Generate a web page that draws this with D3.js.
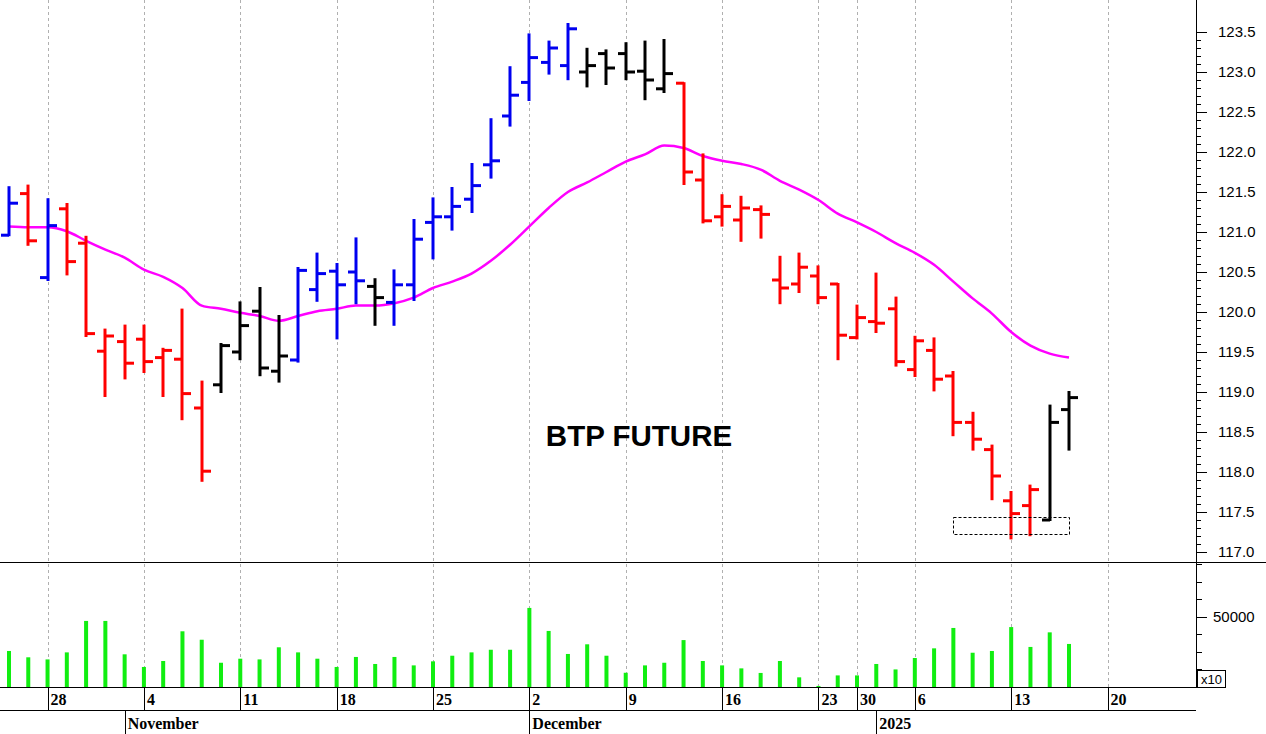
<!DOCTYPE html>
<html><head><meta charset="utf-8">
<script src="https://cdn.jsdelivr.net/npm/d3@7"></script>
<style>body{margin:0;background:#fff}svg{display:block}</style>
</head><body><svg id="c" width="1266" height="734"></svg>
<script>
const openP=[120.96,121.48,120.43,121.29,120.86,119.51,119.63,119.66,119.43,119.41,118.80,119.09,119.50,120.01,119.26,119.40,120.28,120.51,120.50,120.32,120.12,120.34,121.12,121.19,121.41,121.84,122.45,122.87,123.12,123.08,123.00,123.23,123.23,123.01,122.79,122.86,121.65,121.19,121.15,121.28,120.40,120.35,120.45,120.35,119.68,119.88,120.04,119.28,119.52,119.20,118.62,118.28,117.64,117.58,117.40,118.78];
const highP=[121.56,121.58,121.41,121.35,120.94,119.78,119.83,119.83,119.54,120.03,119.13,119.60,120.12,120.30,119.95,120.55,120.73,120.60,120.92,120.41,120.52,121.15,121.42,121.55,121.85,122.41,123.06,123.47,123.38,123.60,123.29,123.27,123.36,123.38,123.40,122.86,121.97,121.46,121.44,121.32,120.69,120.73,120.57,120.35,120.08,120.48,120.18,119.69,119.67,119.25,118.74,118.33,117.75,117.83,118.83,119.00];
const lowP=[120.96,120.84,120.40,120.47,119.70,118.95,119.17,119.25,118.95,118.66,117.89,119.00,119.41,119.21,119.13,119.38,120.14,119.67,120.11,119.84,119.84,120.15,120.67,121.03,121.25,121.68,122.33,122.65,122.98,122.91,122.82,122.85,122.91,122.66,122.75,121.60,121.12,121.08,120.89,120.93,120.11,120.25,120.11,119.41,119.67,119.75,119.33,119.20,119.02,118.46,118.28,117.66,117.17,117.21,117.40,118.28];
const closeP=[121.36,120.89,121.08,120.63,119.73,119.70,119.36,119.38,119.52,118.98,118.01,119.58,119.83,119.30,119.45,120.52,120.48,120.34,120.39,120.18,120.34,120.91,121.19,121.32,121.58,121.89,122.71,123.18,123.30,123.54,123.08,123.05,123.00,122.90,122.98,121.75,121.14,121.32,121.30,121.22,120.30,120.56,120.18,119.71,119.93,119.86,119.38,119.64,119.16,118.62,118.41,117.95,117.48,117.78,118.62,118.93];
const barColor="BRBRRRRRRRRKKKKBBBBKBBBBBBBBBBKKKKKRRRRRRRRRRRRRRRRRRRKK".split("");
const maP=[121.07,121.06,121.06,121.01,120.89,120.78,120.68,120.53,120.44,120.30,120.08,120.04,119.99,119.95,119.89,119.95,120.01,120.04,120.08,120.08,120.11,120.18,120.30,120.38,120.48,120.64,120.84,121.07,121.30,121.50,121.62,121.75,121.88,121.97,122.08,122.05,121.95,121.89,121.85,121.78,121.64,121.53,121.40,121.23,121.12,121.00,120.86,120.74,120.59,120.38,120.17,119.98,119.75,119.58,119.48,119.43];
const volume=[30500,26900,25700,29700,47600,47600,28600,21400,24800,41700,36900,23800,26100,25700,32600,29700,26100,21400,27100,23100,27100,22300,24600,27800,29700,31200,31200,55000,41900,28800,34300,27800,18100,22300,23800,36700,24800,22300,20600,18000,24800,15500,10600,16600,16600,23100,20000,26500,32000,43600,29500,30500,44100,32800,41100,34500];
const dayTickIdx=[2,7,12,17,22,27,32,37,42,44,47,52,57];
const dayTickLbl=["28","4","11","18","25","2","9","16","23","30","6","13","20"];
const monthIdx=[6,27,45];
const monthLbl=["November","December","2025"];
const priceTicks=[117.0,117.5,118.0,118.5,119.0,119.5,120.0,120.5,121.0,121.5,122.0,122.5,123.0,123.5];
const volTicks=[20000,30000,40000,50000,60000,70000,80000];
const volLabels=[50000];
const title="BTP FUTURE";

const svg=d3.select("#c");
const AX=1196;
const x=d3.scaleLinear().domain([0,55]).range([9,1069]);
const y=d3.scaleLinear().domain([117,123.5]).range([552,32]);
const yv=d3.scaleLinear().domain([10000,80000]).range([687,564]);
const col={B:"#0000f0",R:"#ff0000",K:"#000000"};

svg.append("g").selectAll("line").data(dayTickIdx).join("line")
 .attr("x1",d=>Math.round(x(d))+0.5).attr("x2",d=>Math.round(x(d))+0.5).attr("y1",0).attr("y2",687)
 .attr("stroke","#b0b0b0").attr("stroke-dasharray","3,3");
svg.append("line").attr("x1",0).attr("x2",1266).attr("y1",562.5).attr("y2",562.5).attr("stroke","#000");
svg.append("line").attr("x1",0).attr("x2",AX).attr("y1",687.5).attr("y2",687.5).attr("stroke","#000");
svg.append("line").attr("x1",0).attr("x2",AX).attr("y1",710.5).attr("y2",710.5).attr("stroke","#000");
svg.append("line").attr("x1",AX+0.5).attr("x2",AX+0.5).attr("y1",0).attr("y2",688).attr("stroke","#000");

const pa=svg.append("g").attr("transform",`translate(${AX},0)`);
const minor=d3.range(1170,1236).map(v=>v/10);
pa.selectAll("line.m").data(minor).join("line").attr("x1",0).attr("x2",5)
 .attr("y1",d=>Math.round(y(d))+0.5).attr("y2",d=>Math.round(y(d))+0.5).attr("stroke","#000");
pa.selectAll("line.M").data(priceTicks).join("line").attr("x1",0).attr("x2",11)
 .attr("y1",d=>Math.round(y(d))+0.5).attr("y2",d=>Math.round(y(d))+0.5).attr("stroke","#000");
pa.selectAll("text").data(priceTicks).join("text").attr("x",22).attr("y",d=>y(d)+5)
 .attr("font-family","Liberation Sans, Arial").attr("font-size",15).text(d=>d.toFixed(1));

const va=svg.append("g").attr("transform",`translate(${AX},0)`);
va.selectAll("line").data(volTicks).join("line").attr("x1",0).attr("x2",d=>volLabels.includes(d)?11:6)
 .attr("y1",d=>Math.round(yv(d))+0.5).attr("y2",d=>Math.round(yv(d))+0.5).attr("stroke","#000");
va.selectAll("text").data(volLabels).join("text").attr("x",17).attr("y",d=>yv(d)+5)
 .attr("font-family","Liberation Sans, Arial").attr("font-size",15).text(d=>d);
va.append("rect").attr("x",1.5).attr("y",670.5).attr("width",28).attr("height",17).attr("fill","#fff").attr("stroke","#000");
va.append("text").attr("x",5).attr("y",684).attr("font-family","Liberation Sans, Arial").attr("font-size",13).text("x10");

svg.append("g").selectAll("line").data(dayTickIdx).join("line")
 .attr("x1",d=>Math.round(x(d))+0.5).attr("x2",d=>Math.round(x(d))+0.5).attr("y1",688).attr("y2",711).attr("stroke","#000");
svg.append("g").selectAll("text").data(dayTickIdx).join("text")
 .attr("x",d=>x(d)+3).attr("y",705).attr("font-family","Liberation Serif, Times New Roman").attr("font-weight","bold").attr("font-size",16)
 .text((d,i)=>dayTickLbl[i]);
svg.append("g").selectAll("line").data(monthIdx).join("line")
 .attr("x1",d=>Math.round(x(d))+0.5).attr("x2",d=>Math.round(x(d))+0.5).attr("y1",711).attr("y2",734).attr("stroke","#000");
svg.append("g").selectAll("text").data(monthIdx).join("text")
 .attr("x",d=>x(d)+3).attr("y",729).attr("font-family","Liberation Serif, Times New Roman").attr("font-weight","bold").attr("font-size",16)
 .text((d,i)=>monthLbl[i]);

svg.append("g").selectAll("rect").data(volume).join("rect")
 .attr("x",(d,i)=>x(i)-2).attr("width",4).attr("y",d=>yv(d)).attr("height",d=>687-yv(d)).attr("fill","#11ee11");

svg.append("path").datum(maP).attr("fill","none").attr("stroke","#ff00ff").attr("stroke-width",2.5)
 .attr("d",d3.line().x((d,i)=>x(i)).y(d=>y(d)).curve(d3.curveMonotoneX));

const g=svg.append("g");
openP.forEach((o,i)=>{
  const c=col[barColor[i]], xi=Math.round(x(i));
  g.append("line").attr("x1",xi).attr("x2",xi).attr("y1",y(highP[i])-1).attr("y2",y(lowP[i])+1).attr("stroke",c).attr("stroke-width",3);
  g.append("line").attr("x1",xi-8).attr("x2",xi).attr("y1",y(o)).attr("y2",y(o)).attr("stroke",c).attr("stroke-width",3);
  g.append("line").attr("x1",xi).attr("x2",xi+9).attr("y1",y(closeP[i])).attr("y2",y(closeP[i])).attr("stroke",c).attr("stroke-width",3);
});

svg.append("rect").attr("x",Math.round(x(49))+0.5).attr("y",Math.round(y(117.44))+0.5)
 .attr("width",Math.round(x(55))-Math.round(x(49))).attr("height",Math.round(y(117.22))-Math.round(y(117.44)))
 .attr("fill","none").attr("stroke","#000").attr("stroke-dasharray","3,2");

svg.append("text").attr("x",639).attr("y",446).attr("text-anchor","middle").attr("font-family","Liberation Sans, Arial")
 .attr("font-weight","bold").attr("font-size",29.5).text(title);
</script></body></html>
